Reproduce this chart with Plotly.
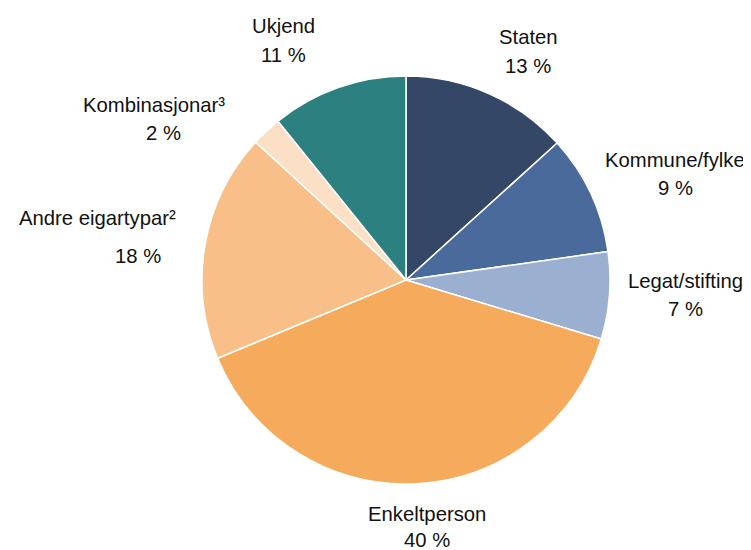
import plotly.graph_objects as go

categories = ["Staten", "Kommune/fylke", "Legat/stifting", "Enkeltperson",
              "Andre eigartypar²", "Kombinasjonar³", "Ukjend"]
values = [13.3, 9.5, 6.9, 39.1, 18.1, 2.4, 10.8]
pct_labels = ["13 %", "9 %", "7 %", "40 %", "18 %", "2 %", "11 %"]
colors = ["#344767", "#4a6a9c", "#9bafd0", "#f6aa5c", "#f8c088", "#fce0c5", "#2c8080"]

OFF = 8  # page body margin
W, H = 751 - OFF, 550 - OFF
cx, cy, r = 406 - OFF, 280 - OFF, 204


def px_x(x):
    return (x - OFF) / W


def px_y(y):
    return 1 - (y - OFF) / H


fig = go.Figure(go.Pie(
    labels=categories, values=values, sort=False, direction="clockwise",
    rotation=0, textinfo="none", hoverinfo="label+percent",
    marker=dict(colors=colors, line=dict(color="white", width=1.5)),
    domain=dict(x=[(cx - r) / W, (cx + r) / W], y=[1 - (cy + r) / H, 1 - (cy - r) / H]),
    showlegend=False,
))

# label layout positions (pixel centres in the reference): name line and percent line
name_pos = [(528, 37), (675, 160), (685, 281), (427, 514), (97, 218), (154, 105), (283, 26)]
pct_pos = [(528, 66), (675, 188), (685, 309), (427, 540), (138, 256), (163, 133), (283, 55)]

font = dict(family="Liberation Sans, Arial, sans-serif", size=20.3, color="#111111")
anns = []
for name, pct, (nx, ny), (qx, qy) in zip(categories, pct_labels, name_pos, pct_pos):
    anns.append(dict(text=name, x=px_x(nx), y=px_y(ny), xref="paper", yref="paper",
                     showarrow=False, font=font, xanchor="center", yanchor="middle"))
    anns.append(dict(text=pct, x=px_x(qx), y=px_y(qy), xref="paper", yref="paper",
                     showarrow=False, font=font, xanchor="center", yanchor="middle"))

fig.update_layout(width=W, height=H, margin=dict(l=0, r=0, t=0, b=0),
                  paper_bgcolor="white", plot_bgcolor="white", annotations=anns)
fig.write_html("out.html")
